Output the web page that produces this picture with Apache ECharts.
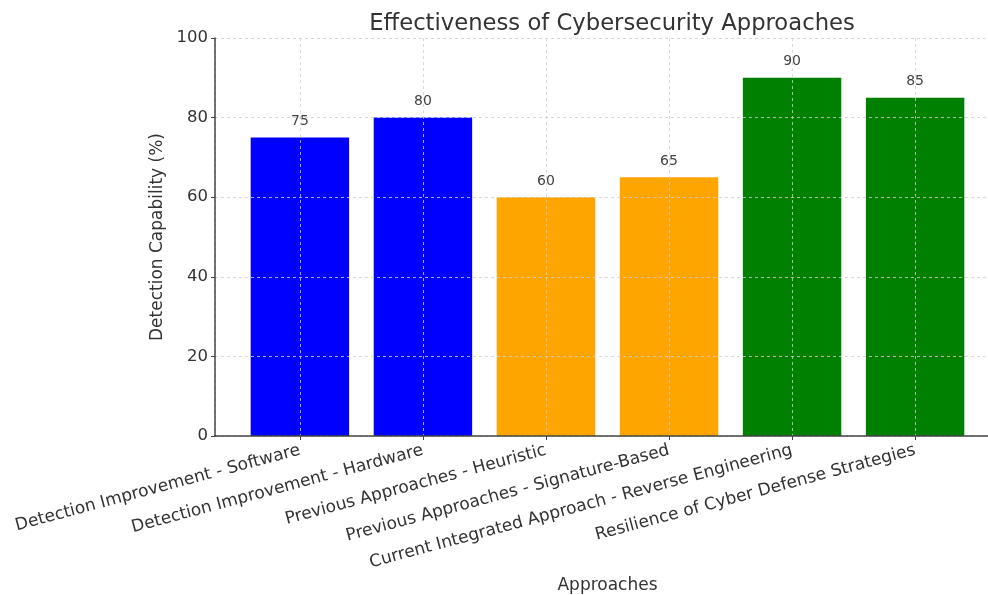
<!DOCTYPE html>
<html>
<head>
<meta charset="utf-8">
<script src="https://cdn.jsdelivr.net/npm/echarts@6/dist/echarts.min.js"></script>
<style>
  html, body { margin: 0; padding: 0; background: #fff; }
  #chart { width: 988px; height: 595px; }
</style>
</head>
<body>
<div id="chart"></div>
<script>
// data
const categories = [
  'Detection Improvement - Software',
  'Detection Improvement - Hardware',
  'Previous Approaches - Heuristic',
  'Previous Approaches - Signature-Based',
  'Current Integrated Approach - Reverse Engineering',
  'Resilience of Cyber Defense Strategies'
]
const capability = [75, 80, 60, 65, 90, 85]
const yTicks = [0, 20, 40, 60, 80, 100]

// one colour per bar
const barColors = ['#0000ff', '#0000ff', '#ffa500', '#ffa500', '#008000', '#008000']

const font = 'DejaVu Sans'
const chart = echarts.init(document.getElementById('chart'))

const option = {
  animation: false,
  title: {
    text: 'Effectiveness of Cybersecurity Approaches',
    left: 607,
    textAlign: 'center',
    top: 8,
    textStyle: { fontFamily: font, fontWeight: 'normal', fontSize: 22.7, color: '#333' }
  },
  // plot runs past the right edge, like the cropped original
  grid: { left: 215, right: -12, top: 38, bottom: 159, containLabel: false, outerBoundsMode: 'none' },
  xAxis: {
    type: 'value',
    min: -0.69,
    max: 5.69,
    minInterval: 1,
    maxInterval: 1,
    z: 3,
    name: 'Approaches',
    nameLocation: 'middle',
    nameGap: 136,
    nameTextStyle: { fontFamily: font, fontSize: 17, color: '#333' },
    axisLine: { show: true, onZero: false, lineStyle: { color: '#444', width: 1.5 } },
    axisTick: { show: true, length: 4, lineStyle: { color: '#444' } },
    axisLabel: {
      rotate: 15,
      margin: 14,
      fontFamily: font,
      fontSize: 17,
      color: '#333',
      showMinLabel: false,
      showMaxLabel: false,
      formatter: function (v) {
        return Number.isInteger(v) && categories[v] ? categories[v] : ''
      }
    },
    splitLine: { show: true, lineStyle: { color: '#d0d0d0', type: [3, 3], width: 0.8 } }
  },
  yAxis: {
    type: 'value',
    min: yTicks[0],
    max: yTicks[yTicks.length - 1],
    interval: 20,
    z: 3,
    name: 'Detection Capability (%)',
    nameLocation: 'middle',
    nameGap: 41,
    nameTextStyle: { fontFamily: font, fontSize: 17, color: '#333' },
    axisLine: { show: true, onZero: false, lineStyle: { color: '#444', width: 1.5 } },
    axisTick: { show: true, length: 4, lineStyle: { color: '#444' } },
    axisLabel: { margin: 7, fontFamily: font, fontSize: 16.5, color: '#333' },
    splitLine: { show: true, lineStyle: { color: '#d0d0d0', type: [3, 3], width: 0.8 } }
  },
  series: [{
    type: 'bar',
    z: 1,
    barWidth: '80%',
    data: capability.map(function (v, i) {
      return { value: [i, v], itemStyle: { color: barColors[i] } }
    }),
    label: {
      show: true,
      position: 'top',
      distance: 9,
      fontFamily: font,
      fontSize: 14,
      color: '#444',
      formatter: function (p) { return p.value[1] }
    }
  }]
}

chart.setOption(option)
</script>
</body>
</html>
